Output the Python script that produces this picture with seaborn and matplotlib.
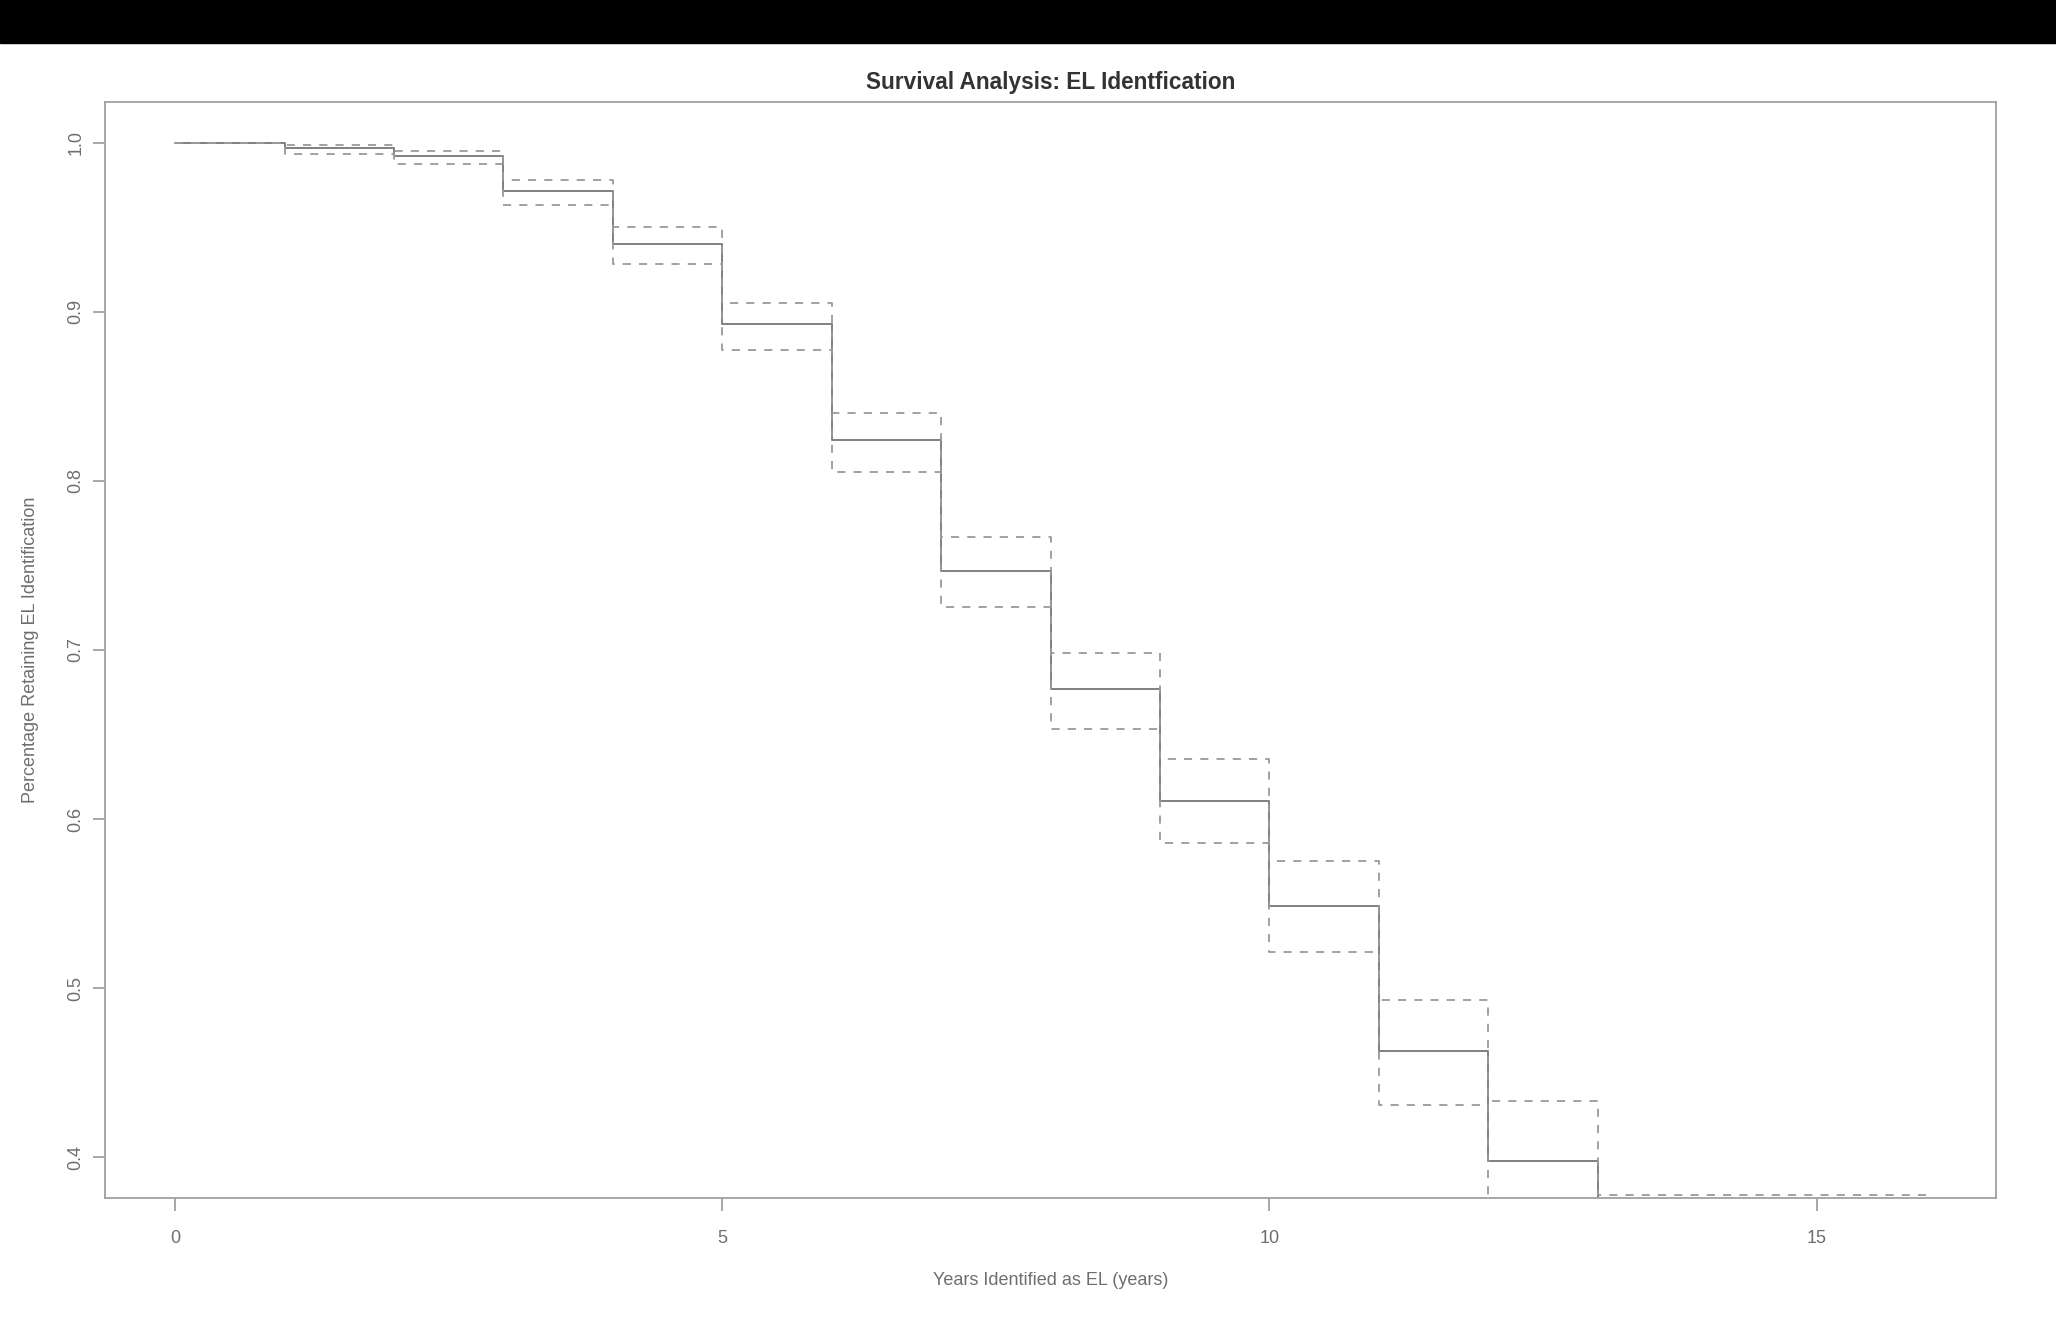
import numpy as np
import pandas as pd
import matplotlib
matplotlib.use("Agg")
import matplotlib.pyplot as plt
import seaborn as sns

# Kaplan-Meier estimate (steps start at each year)
years = [0, 1, 2, 3, 4, 5, 6, 7, 8, 9, 10, 11, 12, 13]
surv = [1.0, 0.9968, 0.9921, 0.9715, 0.9398, 0.8925, 0.8240, 0.7465, 0.6767,
        0.6109, 0.5488, 0.4628, 0.3977, 0.0]

# confidence bounds (dashed)
ci_years = [0, 1, 2, 3, 4, 5, 6, 7, 8, 9, 10, 11, 12, 13, 16]
upper = [1.0, 0.9986, 0.9950, 0.9780, 0.9500, 0.9054, 0.8400, 0.7667, 0.6984,
         0.6357, 0.5752, 0.4930, 0.4333, 0.3775, 0.3775]
lower_years = [0, 1, 2, 3, 4, 5, 6, 7, 8, 9, 10, 11, 12, 13]
lower = [1.0, 0.9935, 0.9873, 0.9628, 0.9283, 0.8775, 0.8054, 0.7256, 0.6535,
         0.5860, 0.5217, 0.4310, 0.3600, 0.3600]

x_ticks = [0, 5, 10, 15]
y_ticks = [0.4, 0.5, 0.6, 0.7, 0.8, 0.9, 1.0]

sns.set_style("white")
plt.rcParams['font.family'] = ['Liberation Sans', 'DejaVu Sans']

fig = plt.figure(figsize=(20.56, 13.29), dpi=100)
ax = fig.add_axes([0.0511, 0.0986, 0.9197, 0.8247])

# black band across the top of the screenshot
fig.patches.append(plt.Rectangle((0, 1 - 43 / 1329), 1, 43 / 1329,
                                 transform=fig.transFigure, color='black', zorder=0))

est = pd.DataFrame({'years': years, 'surv': surv})
up = pd.DataFrame({'years': ci_years, 'surv': upper})
lo = pd.DataFrame({'years': lower_years, 'surv': lower})

sns.lineplot(data=est, x='years', y='surv', ax=ax, drawstyle='steps-post',
             color='#808080', linewidth=1.4, estimator=None, sort=False)
for d in (up, lo):
    sns.lineplot(data=d, x='years', y='surv', ax=ax, drawstyle='steps-post',
                 color='#9a9a9a', linewidth=1.3, estimator=None, sort=False,
                 dashes=False, linestyle=(0, (4.5, 4.5)))

ax.set_xlim(-0.64, 16.64)
ax.set_ylim(0.376, 1.024)
ax.set_xticks(x_ticks)
ax.set_xticklabels([str(t) for t in x_ticks])
ax.set_yticks(y_ticks)
ax.set_yticklabels([f"{t:.1f}" for t in y_ticks], rotation=90, va='center')

for s in ax.spines.values():
    s.set_color('#a0a0a0')
    s.set_linewidth(1.3)

ax.tick_params(axis='both', bottom=True, left=True, direction='out', length=9,
               width=1.1, color='#909090', labelcolor='#6e6e6e', labelsize=13, pad=14)
ax.tick_params(axis='y', pad=6)

ax.set_xlabel('Years Identified as EL (years)', fontsize=13, color='#6e6e6e', labelpad=18)
ax.set_ylabel('Percentage Retaining EL Identification', fontsize=13, color='#6e6e6e',
              labelpad=20)
# title centred over the plot region, as R does
ax.set_title('Survival Analysis: EL Identfication', fontsize=16.3, color='#333333',
             fontweight='bold', pad=9)

fig.savefig('out.png', dpi=100)
